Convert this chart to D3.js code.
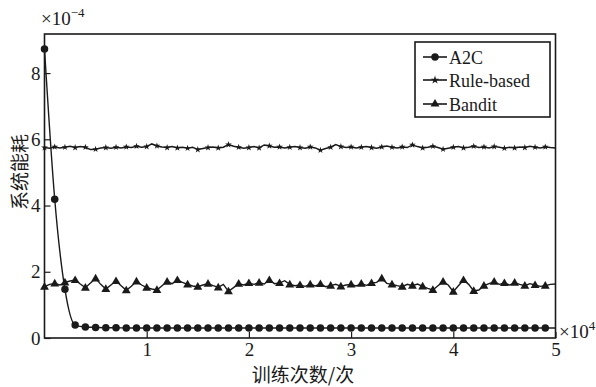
<!DOCTYPE html>
<html>
<head>
<meta charset="utf-8">
<script src="https://cdn.jsdelivr.net/npm/d3@7"></script>
<style>
  body { margin: 0; background: #fff; }
</style>
</head>
<body>
<svg id="chart" width="596" height="387"></svg>
<script>
// x in units of 1e4 iterations, y in units of 1e-4
const xTicks = [1, 2, 3, 4, 5];
const yTicks = [0, 2, 4, 6, 8];

// A2C, step 0.1
const a2c = [
  8.73, 4.19, 1.47, 0.39, 0.33, 0.32, 0.31, 0.31, 0.30, 0.30,
  0.30, 0.30, 0.30, 0.30, 0.30, 0.30, 0.30, 0.30, 0.30, 0.30,
  0.30, 0.30, 0.30, 0.30, 0.30, 0.30, 0.30, 0.30, 0.30, 0.30,
  0.30, 0.30, 0.30, 0.30, 0.30, 0.30, 0.30, 0.30, 0.30, 0.30,
  0.30, 0.30, 0.30, 0.30, 0.30, 0.30, 0.30, 0.30, 0.30, 0.30,
  0.30
];

// Rule-based, step 0.05
const ruleBased = [
  5.75, 5.73, 5.77, 5.74, 5.76, 5.79, 5.75, 5.78, 5.76, 5.69,
  5.70, 5.74, 5.75, 5.73, 5.76, 5.74, 5.77, 5.75, 5.79, 5.76,
  5.78, 5.86, 5.80, 5.77, 5.75, 5.78, 5.74, 5.76, 5.73, 5.76,
  5.69, 5.72, 5.75, 5.77, 5.74, 5.76, 5.84, 5.79, 5.76, 5.73,
  5.75, 5.78, 5.74, 5.83, 5.80, 5.76, 5.77, 5.74, 5.76, 5.78,
  5.75, 5.73, 5.77, 5.74, 5.67, 5.72, 5.76, 5.84, 5.78, 5.75,
  5.77, 5.74, 5.76, 5.78, 5.75, 5.73, 5.77, 5.80, 5.76, 5.74,
  5.77, 5.75, 5.83, 5.78, 5.74, 5.76, 5.79, 5.75, 5.70, 5.73,
  5.76, 5.78, 5.74, 5.76, 5.79, 5.75, 5.77, 5.74, 5.78, 5.76,
  5.73, 5.76, 5.74, 5.77, 5.75, 5.79, 5.76, 5.74, 5.77, 5.75,
  5.74
];

// Bandit, step 0.05
const bandit = [
  1.55, 1.62, 1.65, 1.60, 1.68, 1.72, 1.75, 1.63, 1.52, 1.66,
  1.80, 1.62, 1.48, 1.60, 1.72, 1.58, 1.44, 1.56, 1.71, 1.60,
  1.52, 1.48, 1.45, 1.58, 1.70, 1.64, 1.75, 1.68, 1.62, 1.57,
  1.55, 1.60, 1.64, 1.58, 1.53, 1.62, 1.41, 1.52, 1.64, 1.60,
  1.66, 1.62, 1.67, 1.63, 1.75, 1.64, 1.66, 1.73, 1.62, 1.58,
  1.60, 1.56, 1.62, 1.57, 1.63, 1.55, 1.58, 1.62, 1.56, 1.60,
  1.62, 1.57, 1.64, 1.59, 1.66, 1.68, 1.80, 1.65, 1.62, 1.58,
  1.55, 1.62, 1.58, 1.63, 1.56, 1.50, 1.45, 1.58, 1.70, 1.60,
  1.40, 1.58, 1.75, 1.62, 1.42, 1.45, 1.58, 1.64, 1.70, 1.62,
  1.66, 1.60, 1.67, 1.62, 1.58, 1.64, 1.60, 1.56, 1.58, 1.62,
  1.63
];

const seriesNames = ["A2C", "Rule-based", "Bandit"];

const serif = "'Liberation Serif', 'DejaVu Serif', 'Noto Serif', Tinos, 'Times New Roman', Times, serif";
const cjk = "'Noto Sans CJK SC', sans-serif";

const svg = d3.select("#chart");
const mLeft = 44.5, mRight = 555.5, mTop = 34, mBottom = 338;

const x = d3.scaleLinear().domain([0, 5]).range([mLeft, mRight]);
const y = d3.scaleLinear().domain([0, 9.18]).range([mBottom, mTop]);

const ink = "#1a1a1a";

// axes
const xAxis = svg.append("g")
  .attr("transform", `translate(0,${mBottom})`)
  .call(d3.axisBottom(x).tickValues(xTicks).tickSizeInner(-6).tickSizeOuter(0).tickPadding(5).tickFormat(d3.format("d")));
const yAxis = svg.append("g")
  .attr("transform", `translate(${mLeft},0)`)
  .call(d3.axisLeft(y).tickValues(yTicks).tickSizeInner(-6).tickSizeOuter(0).tickPadding(4).tickFormat(d3.format("d")));

[xAxis, yAxis].forEach(g => {
  g.attr("font-family", null).attr("font-size", null);
  g.select(".domain").remove();
  g.selectAll(".tick line").attr("stroke", ink).attr("stroke-width", 1.2);
  g.selectAll(".tick text").attr("fill", ink)
    .style("font-family", serif).style("font-size", "19px");
});

// frame
svg.append("rect")
  .attr("x", mLeft).attr("y", mTop)
  .attr("width", mRight - mLeft).attr("height", mBottom - mTop)
  .attr("fill", "none").attr("stroke", ink).attr("stroke-width", 1.6);

svg.append("clipPath").attr("id", "plotclip")
  .append("rect").attr("x", mLeft - 6).attr("y", mTop).attr("width", mRight - mLeft + 6).attr("height", mBottom - mTop);

const plot = svg.append("g").attr("clip-path", "url(#plotclip)");

const a2cPts = a2c.map((v, i) => [i * 0.1, v]);
const rulePts = ruleBased.map((v, i) => [i * 0.05, v]);
const banditPts = bandit.map((v, i) => [i * 0.05, v]);

const straight = d3.line().x(d => x(d[0])).y(d => y(d[1]));
const smooth = d3.line().x(d => x(d[0])).y(d => y(d[1])).curve(d3.curveMonotoneX);

plot.append("path")
  .attr("d", smooth(a2cPts))
  .attr("fill", "none").attr("stroke", ink).attr("stroke-width", 1.4);
plot.append("path")
  .attr("d", straight(rulePts))
  .attr("fill", "none").attr("stroke", ink).attr("stroke-width", 1.5);
plot.append("path")
  .attr("d", straight(banditPts))
  .attr("fill", "none").attr("stroke", ink).attr("stroke-width", 1.4);

const circleSym = d3.symbol().type(d3.symbolCircle).size(44);
const starSym = d3.symbol().type(d3.symbolStar).size(14);
const triSym = d3.symbol().type(d3.symbolTriangle).size(34);

plot.selectAll(".m-a2c").data(a2cPts.slice(0, 50)).join("path")
  .attr("transform", d => `translate(${x(d[0])},${y(d[1])})`)
  .attr("d", circleSym).attr("fill", ink);
plot.selectAll(".m-rule").data(rulePts.filter((d, i) => i % 2 === 0 && i < 100)).join("path")
  .attr("transform", d => `translate(${x(d[0])},${y(d[1])})`)
  .attr("d", starSym).attr("fill", ink);
plot.selectAll(".m-bandit").data(banditPts.filter((d, i) => i % 2 === 0 && i < 100)).join("path")
  .attr("transform", d => `translate(${x(d[0])},${y(d[1]) + 0.5})`)
  .attr("d", triSym).attr("fill", ink);

// exponent labels
const expY = svg.append("text").attr("x", 41).attr("y", 25)
  .style("font-family", serif).style("font-size", "19px").attr("fill", ink);
expY.append("tspan").text("×10");
expY.append("tspan").attr("dy", -8).style("font-size", "13px").text("−4");

const expX = svg.append("text").attr("x", 559).attr("y", 338)
  .style("font-family", serif).style("font-size", "19px").attr("fill", ink);
expX.append("tspan").text("×10");
expX.append("tspan").attr("dy", -8).style("font-size", "13px").text("4");

// axis titles
svg.append("text")
  .attr("transform", "translate(27,172) rotate(-90)")
  .style("font-family", cjk).attr("fill", ink)
  .attr("text-anchor", "middle").style("font-size", "19px").text("系统能耗");
svg.append("text")
  .attr("x", 303).attr("y", 382)
  .style("font-family", cjk).attr("fill", ink)
  .attr("text-anchor", "middle").style("font-size", "19px").text("训练次数/次");

// legend
const legend = svg.append("g");
legend.append("rect")
  .attr("x", 415).attr("y", 42).attr("width", 135).attr("height", 75)
  .attr("fill", "#fff").attr("stroke", ink).attr("stroke-width", 1.6);
const legendSyms = [circleSym, d3.symbol().type(d3.symbolStar).size(22), triSym];
const legendY = [57, 80, 104];
seriesNames.forEach((name, i) => {
  const ly = legendY[i];
  legend.append("line")
    .attr("x1", 423).attr("x2", 447).attr("y1", ly).attr("y2", ly)
    .attr("stroke", ink).attr("stroke-width", 1.6);
  legend.append("path")
    .attr("transform", `translate(435,${ly})`)
    .attr("d", legendSyms[i]())
    .attr("fill", ink);
  legend.append("text")
    .attr("x", 449).attr("y", ly + 6.5)
    .style("font-family", serif).attr("fill", ink)
    .style("font-size", "18px").text(name);
});
</script>
</body>
</html>
